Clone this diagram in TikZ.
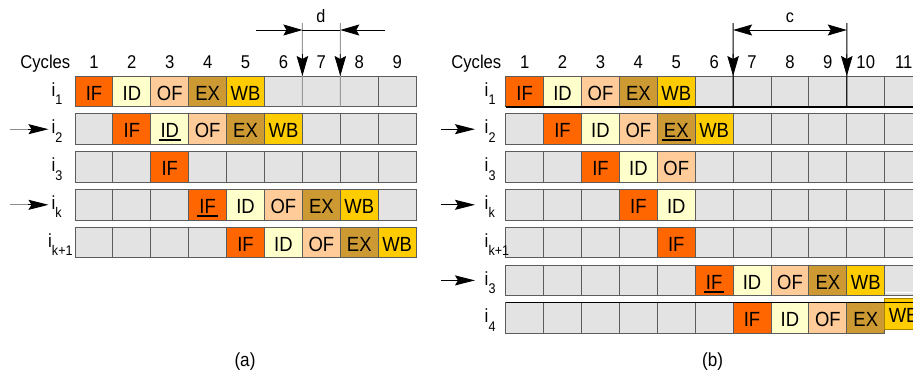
\documentclass[tikz,border=0pt]{standalone}
\usepackage{fontspec}
\setmainfont{Liberation Sans}[FakeStretch=0.9]
\usetikzlibrary{arrows.meta}

% stage colours
\definecolor{cIF}{HTML}{FF6600}
\definecolor{cID}{HTML}{FFFFCC}
\definecolor{cOF}{HTML}{FFCC99}
\definecolor{cEX}{HTML}{CC9933}
\definecolor{cWB}{HTML}{FFCC00}
\definecolor{cNone}{HTML}{E3E3E3}
\definecolor{gridline}{HTML}{5C5C5C}
\definecolor{dimline}{HTML}{9A9A9A}
\definecolor{shaftgray}{HTML}{8C8C8C}
\definecolor{wbedge}{HTML}{A88400}

\newcommand\cellfont{\fontsize{20.5}{22}\selectfont}
\newcommand\numfont{\fontsize{18.5}{20}\selectfont}
\newcommand\labfont{\fontsize{19}{21}\selectfont}
\newcommand\dimfont{\fontsize{18}{20}\selectfont}
\newcommand\capfont{\fontsize{19}{21}\selectfont}
\newcommand\lsub[1]{\raisebox{-8.5pt}{\fontsize{14}{14}\selectfont #1}}
% thick underline, a little wider than the word
\newcommand\ulin[1]{\setbox0\hbox{#1}\rlap{\kern-2pt\vrule width\dimexpr\wd0+4pt\relax height -1.5pt depth 3.5pt}\box0}
\def\cellw{37.9}

% one pipeline row: #1 prefix, #2 left x, #3 top y, #4 cells, #5 col/colour/text
\newcommand\stagerow[5]{%
  \foreach \c in {1,...,#4}
    \node[cell, fill=cNone] (#1-\c) at ({#2+(\c-1)*\cellw},#3) {};
  \foreach \c/\s/\t in {#5}
    \node[cell, fill=\s] (#1-s\c) at ({#2+(\c-1)*\cellw},#3) {\t};
}

\begin{document}
\begin{tikzpicture}[x=1pt,y=-1pt,
  cell/.style={draw=gridline, line width=1pt, minimum width=37.9pt,
    minimum height=30.7pt, inner sep=0pt, outer sep=0pt, anchor=north west,
    text height=17.3pt, text depth=0pt, font=\cellfont},
  num/.style={anchor=base, inner sep=0pt, font=\numfont},
  cyc/.style={anchor=base east, inner sep=0pt, font=\numfont},
  rowlab/.style={anchor=base west, inner sep=0pt, font=\labfont},
  dimlab/.style={anchor=base, inner sep=0pt, font=\dimfont},
  head/.style={-{Stealth[length=20pt,width=10pt,inset=3pt]}},
  vhead/.style={-{Stealth[length=20pt,width=11.5pt,inset=3pt]}},
  hhead/.style={-{Stealth[length=19pt,width=11pt,inset=3pt]}},
  twohead/.style={{Stealth[length=19pt,width=11pt,inset=3pt]}-{Stealth[length=19pt,width=11pt,inset=3pt]}},
]
\useasboundingbox (0,0) rectangle (913,376);
\fill[white] (0,0) rectangle (913,376);
\clip (0,0) rectangle (913,376);

% ---------------- (a) ----------------
\node[cyc] (acyc) at (70.5,68) {Cycles};
\foreach \n in {1,...,9}
  \node[num] (anum\n) at ({75+(\n-0.5)*\cellw},68) {\n};

\stagerow{a1}{75}{76}{9}{1/cIF/IF,2/cID/ID,3/cOF/OF,4/cEX/EX,5/cWB/WB}
\stagerow{a2}{75}{113.8}{9}{2/cIF/IF,3/cID/\ulin{ID},4/cOF/OF,5/cEX/EX,6/cWB/WB}
\stagerow{a3}{75}{151.6}{9}{3/cIF/IF}
\stagerow{ak}{75}{189.4}{9}{4/cIF/\ulin{IF},5/cID/ID,6/cOF/OF,7/cEX/EX,8/cWB/WB}
\stagerow{ak1}{75}{227.2}{9}{5/cIF/IF,6/cID/ID,7/cOF/OF,8/cEX/EX,9/cWB/WB}

\node[rowlab] (la1) at (51.5,96) {i\lsub{1}};
\node[rowlab] (la2) at (51.5,133.8) {i\lsub{2}};
\node[rowlab] (la3) at (51.5,171.6) {i\lsub{3}};
\node[rowlab] (lak) at (51.5,209.4) {i\lsub{k}};
\node[rowlab] (lak1) at (48,247.2) {i\lsub{k+1}};

% markers pointing at i2 and ik
\coordinate (aa2s) at (10,129.2);  \coordinate (aa2m) at (28,129.2);  \coordinate (aa2t) at (48.5,129.2);
\coordinate (aaks) at (10,204.8);  \coordinate (aakm) at (28,204.8);  \coordinate (aakt) at (48.5,204.8);
\draw[shaftgray, line width=1pt] (aa2s) -- (aa2m);
\draw[head, line width=1pt] (aa2m) -- (aa2t);
\draw[shaftgray, line width=1pt] (aaks) -- (aakm);
\draw[head, line width=1pt] (aakm) -- (aakt);

% distance d
\coordinate (dTop1) at (302.4,23);
\coordinate (dTop2) at (340.3,23);
\draw[dimline, line width=1.1pt] (dTop1) -- (a1-6.south east);
\draw[dimline, line width=1.1pt] (dTop2) -- (a1-7.south east);
\coordinate (dH1) at (302.4,54);
\coordinate (dH2) at (340.3,54);
\draw[vhead, line width=0.8pt] (dH1) -- (a1-6.north east);
\draw[vhead, line width=0.8pt] (dH2) -- (a1-7.north east);
\coordinate (dL) at (256,30);
\coordinate (dA) at (302.4,30);
\coordinate (dB) at (340.3,30);
\coordinate (dR) at (385,30);
\draw[hhead, line width=0.8pt] (dL) -- (dA);
\draw[line width=0.8pt] (dA) -- (dB);
\draw[hhead, line width=0.8pt] (dR) -- (dB);
\node[dimlab] (dlab) at (321,22.7) {d};

\node[anchor=base, inner sep=0pt, font=\capfont] (capa) at (245,366) {(a)};

% ---------------- (b) ----------------
\node[cyc] (bcyc) at (501.5,68) {Cycles};
\foreach \n in {1,...,11}
  \node[num] (bnum\n) at ({505.7+(\n-0.5)*\cellw},68) {\n};

\stagerow{b1}{505.7}{76}{11}{1/cIF/IF,2/cID/ID,3/cOF/OF,4/cEX/EX,5/cWB/WB}
\stagerow{b2}{505.7}{113.8}{11}{2/cIF/IF,3/cID/ID,4/cOF/OF,5/cEX/\ulin{EX},6/cWB/WB}
\stagerow{b3}{505.7}{151.6}{11}{3/cIF/IF,4/cID/ID,5/cOF/OF}
\stagerow{bk}{505.7}{189.4}{11}{4/cIF/IF,5/cID/ID}
\stagerow{bk1}{505.7}{227.2}{11}{5/cIF/IF}
\stagerow{bj}{505.7}{265}{11}{6/cIF/\ulin{IF},7/cID/ID,8/cOF/OF,9/cEX/EX,10/cWB/WB}
\stagerow{b4}{505.7}{302.8}{10}{7/cIF/IF,8/cID/ID,9/cOF/OF,10/cEX/EX}
\node[cell, fill=cWB, draw=wbedge] (b4-s11) at (884.7,298.3) {WB};

% heavier rules under i1 and over i4
\draw[line width=1.6pt] (b1-1.south west) -- (b1-11.south east);
\draw[line width=1.3pt] (b4-1.north west) -- (b4-s11.north east |- b4-1.north west);
\draw[white, line width=0.9pt] ([yshift=6pt]b4-s11.north west) ++(0.6,0) -- ([yshift=6pt]b4-s11.north east);

\node[rowlab] (lb1) at (484.5,96) {i\lsub{1}};
\node[rowlab] (lb2) at (484.5,133.8) {i\lsub{2}};
\node[rowlab] (lb3) at (484.5,171.6) {i\lsub{3}};
\node[rowlab] (lbk) at (484.5,209.4) {i\lsub{k}};
\node[rowlab] (lbk1) at (484.5,247.2) {i\lsub{k+1}};
\node[rowlab] (lbj) at (484.5,285) {i\lsub{3}};
\node[rowlab] (lb4) at (484.5,322.8) {i\lsub{4}};

% markers pointing at i2, ik and the second i3
\coordinate (ba2s) at (441,129.2);  \coordinate (ba2t) at (475,129.2);
\coordinate (baks) at (441,204.8);  \coordinate (bakt) at (475,204.8);
\coordinate (bajs) at (441,280.4);  \coordinate (bajt) at (475,280.4);
\draw[head, line width=1pt] (ba2s) -- (ba2t);
\draw[head, line width=1pt] (baks) -- (bakt);
\draw[head, line width=1pt] (bajs) -- (bajt);

% distance c
\coordinate (cTop1) at (733.1,23);
\coordinate (cTop2) at (846.8,23);
\draw[line width=1pt] (cTop1) -- (b1-6.south east);
\draw[line width=1pt] (cTop2) -- (b1-9.south east);
\coordinate (cH1) at (733.1,54);
\coordinate (cH2) at (846.8,54);
\draw[vhead, line width=0.8pt] (cH1) -- (b1-6.north east);
\draw[vhead, line width=0.8pt] (cH2) -- (b1-9.north east);
\coordinate (cA) at (733.1,30);
\coordinate (cB) at (846.8,30);
\draw[twohead, line width=0.8pt] (cA) -- (cB);
\node[dimlab] (clab) at (790,22.7) {c};

\node[anchor=base, inner sep=0pt, font=\capfont] (capb) at (712.5,366) {(b)};
\end{tikzpicture}
\end{document}
